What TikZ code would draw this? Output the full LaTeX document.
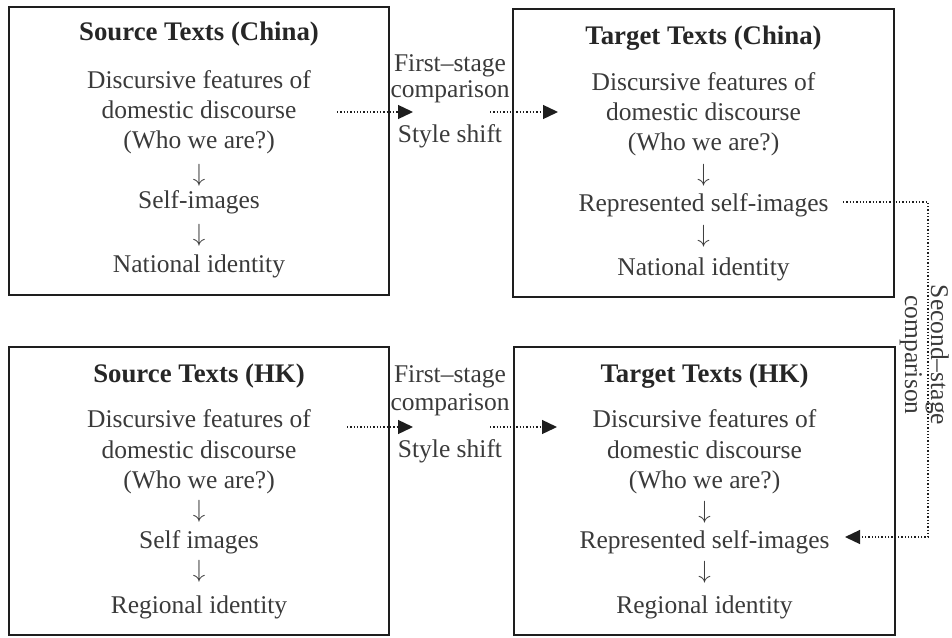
\documentclass[tikz,border=0pt]{standalone}
\usepackage{fontspec}
\setmainfont{Liberation Serif}
\usetikzlibrary{arrows.meta}
\definecolor{txt}{HTML}{3A3A3A}
\definecolor{ttl}{HTML}{262626}
\definecolor{ln}{HTML}{1E1E1E}
\begin{document}
\begin{tikzpicture}[x=1pt,y=-1pt,
  box/.style={draw=ln, line width=1.8pt, inner sep=0pt},
  tx/.style={text=txt, font=\fontsize{25.5}{30}\selectfont, inner sep=0pt, anchor=base},
  ttlx/.style={text=ttl, font=\fontsize{26.8}{30}\selectfont\bfseries, inner sep=0pt, anchor=base},
  dn/.style={text=txt, font=\fontsize{24}{26}\selectfont, inner sep=0pt, anchor=center},
  dotarrow/.style={draw=ln, line width=1.3pt, dash pattern=on 1.3pt off 2pt, -{Triangle[length=15pt,width=14pt]}}]
\useasboundingbox (0,0) rectangle (952,637);
% boxes
\node[box, minimum width=380pt, minimum height=288pt] (b1) at (199,151) {};
\node[box, minimum width=381pt, minimum height=288pt] (b2) at (703.5,153) {};
\node[box, minimum width=380pt, minimum height=288pt] (b3) at (199,491) {};
\node[box, minimum width=381pt, minimum height=288pt] (b4) at (704.5,491) {};
% Source China
\node[ttlx] (t1) at (199,40) {Source Texts (China)};
\node[tx] (s1a) at (199,88) {Discursive features of};
\node[tx] (s1b) at (199,118) {domestic discourse};
\node[tx] (s1c) at (199,148) {(Who we are?)};
\node[dn] (s1d) at (199,175) {$\downarrow$};
\node[tx] (s1e) at (199,208) {Self-images};
\node[dn] (s1f) at (199,235) {$\downarrow$};
\node[tx] (s1g) at (199,272) {National identity};
% Target China
\node[ttlx] (t2) at (703.5,44) {Target Texts (China)};
\node[tx] (s2a) at (703.5,90) {Discursive features of};
\node[tx] (s2b) at (703.5,120) {domestic discourse};
\node[tx] (s2c) at (703.5,150) {(Who we are?)};
\node[dn] (s2d) at (703.5,175) {$\downarrow$};
\node[tx] (rep1) at (703.5,211) {Represented self-images};
\node[dn] (s2f) at (703.5,236) {$\downarrow$};
\node[tx] (s2g) at (703.5,275) {National identity};
% Source HK
\node[ttlx] (t3) at (199,382) {Source Texts (HK)};
\node[tx] (s3a) at (199,427) {Discursive features of};
\node[tx] (s3b) at (199,458) {domestic discourse};
\node[tx] (s3c) at (199,488) {(Who we are?)};
\node[dn] (s3d) at (199,511) {$\downarrow$};
\node[tx] (s3e) at (199,548) {Self images};
\node[dn] (s3f) at (199,571) {$\downarrow$};
\node[tx] (s3g) at (199,613) {Regional identity};
% Target HK
\node[ttlx] (t4) at (704.5,382) {Target Texts (HK)};
\node[tx] (s4a) at (704.5,427) {Discursive features of};
\node[tx] (s4b) at (704.5,458) {domestic discourse};
\node[tx] (s4c) at (704.5,488) {(Who we are?)};
\node[dn] (s4d) at (704.5,512) {$\downarrow$};
\node[tx] (rep2) at (704.5,548) {Represented self-images};
\node[dn] (s4f) at (704.5,572) {$\downarrow$};
\node[tx] (s4g) at (704.5,613) {Regional identity};
% first-stage labels
\node[tx] (l1a) at (450,71) {First--stage};
\node[tx] (l1b) at (450,97) {comparison};
\node[tx] (l1c) at (450,142) {Style shift};
\node[tx] (l2a) at (450,382) {First--stage};
\node[tx] (l2b) at (450,410) {comparison};
\node[tx] (l2c) at (450,457) {Style shift};
% second-stage label
\node[tx, rotate=-90] (l3a) at (931,355) {Second--stage};
\node[tx, rotate=-90] (l3b) at (905,355) {comparison};
% connector coordinates
\coordinate (c1s) at (337,112);
\coordinate (c1e) at (413,112);
\coordinate (c2s) at (490,112);
\coordinate (c2e) at (558,112);
\coordinate (h1s) at (347,427);
\coordinate (h1e) at (413,427);
\coordinate (h2s) at (490,427);
\coordinate (h2e) at (557,427);
\coordinate (r1) at (843,202);
\coordinate (k1) at (928,202);
\coordinate (k2) at (928,537);
\coordinate (r2) at (845,537);
% connectors
\draw[dotarrow] (c1s) -- (c1e);
\draw[dotarrow] (c2s) -- (c2e);
\draw[dotarrow] (h1s) -- (h1e);
\draw[dotarrow] (h2s) -- (h2e);
\draw[dotarrow] (r1) -- (k1) -- (k2) -- (r2);
\end{tikzpicture}
\end{document}
